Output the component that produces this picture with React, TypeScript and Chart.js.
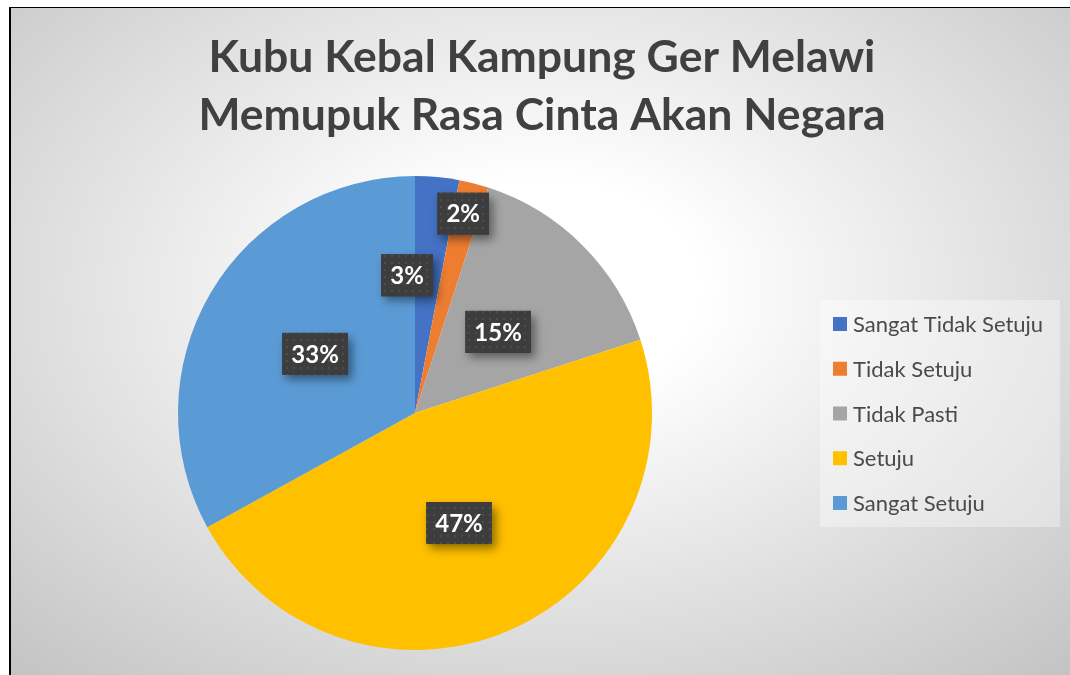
import React, { useEffect, useRef } from "react";
import { Chart, registerables } from "chart.js";
Chart.register(...registerables);

const titleLines = ["Kubu Kebal Kampung Ger Melawi", "Memupuk Rasa Cinta Akan Negara"];
const categories = ["Sangat Tidak Setuju", "Tidak Setuju", "Tidak Pasti", "Setuju", "Sangat Setuju"];
const values = [3, 2, 15, 47, 33];
const colors = ["#4472C4", "#ED7D31", "#A5A5A5", "#FFC000", "#5B9BD5"];

// label placement (radius fraction, angular nudge in degrees) per slice
const labelRadius = [0.582, 0.865, 0.49, 0.5, 0.49];
const labelNudge = [-8.7, -0.8, 0.7, 1.6, 0];

const W = 1059;
const H = 667;

function makePattern(ctx: CanvasRenderingContext2D) {
  const c = document.createElement("canvas");
  c.width = 7;
  c.height = 7;
  const g = c.getContext("2d")!;
  g.fillStyle = "#3d3d3d";
  g.fillRect(0, 0, 7, 7);
  g.fillStyle = "#4d4d4d";
  g.fillRect(2, 2, 2, 2);
  return ctx.createPattern(c, "repeat");
}

const titlePlugin = {
  id: "customTitle",
  afterDraw(chart: any) {
    const ctx = chart.ctx as CanvasRenderingContext2D;
    ctx.save();
    ctx.fillStyle = "#404040";
    ctx.textAlign = "center";
    ctx.textBaseline = "alphabetic";
    ctx.font = "bold 44.5px Lato";
    ctx.fillText(titleLines[0], 531, 64);
    ctx.fillText(titleLines[1], 531, 122);
    ctx.restore();
  },
};

const legendPlugin = {
  id: "customLegend",
  afterDraw(chart: any) {
    const ctx = chart.ctx as CanvasRenderingContext2D;
    const labels = chart.data.labels as string[];
    const bg = chart.data.datasets[0].backgroundColor as string[];
    ctx.save();
    ctx.fillStyle = "rgba(255,255,255,0.35)";
    ctx.fillRect(809, 292, 240, 227);
    ctx.font = "22px Lato";
    ctx.textAlign = "left";
    ctx.textBaseline = "middle";
    labels.forEach((lab, i) => {
      const cy = 316 + i * 44.75;
      ctx.fillStyle = bg[i];
      ctx.fillRect(822, cy - 7, 14, 14);
      ctx.fillStyle = "#4a4a4a";
      ctx.fillText(lab, 842, cy + 1);
    });
    ctx.restore();
  },
};

const labelPlugin = {
  id: "sliceLabels",
  afterDatasetsDraw(chart: any) {
    const ctx = chart.ctx as CanvasRenderingContext2D;
    const meta = chart.getDatasetMeta(0);
    const data = chart.data.datasets[0].data as number[];
    const total = data.reduce((a, b) => a + b, 0);
    const pat = makePattern(ctx);
    ctx.save();
    ctx.font = "bold 24px Lato";
    meta.data.forEach((arc: any, i: number) => {
      const p = arc.getProps(["x", "y", "startAngle", "endAngle", "outerRadius"], true);
      const mid = (p.startAngle + p.endAngle) / 2 + (labelNudge[i] * Math.PI) / 180;
      const r = p.outerRadius * labelRadius[i];
      const cx = p.x + Math.cos(mid) * r;
      const cy = p.y + Math.sin(mid) * r;
      const text = Math.round((data[i] / total) * 100) + "%";
      const tw = ctx.measureText(text).width;
      const bw = tw + 18;
      const bh = 42;
      ctx.save();
      ctx.shadowColor = "rgba(0,0,0,0.45)";
      ctx.shadowBlur = 9;
      ctx.shadowOffsetX = 4;
      ctx.shadowOffsetY = 5;
      ctx.fillStyle = "#3d3d3d";
      ctx.fillRect(cx - bw / 2, cy - bh / 2, bw, bh);
      ctx.restore();
      ctx.fillStyle = pat || "#3d3d3d";
      ctx.fillRect(cx - bw / 2, cy - bh / 2, bw, bh);
      ctx.fillStyle = "#ffffff";
      ctx.textAlign = "center";
      ctx.textBaseline = "middle";
      ctx.fillText(text, cx, cy + 1);
    });
    ctx.restore();
  },
};

export default function App() {
  const ref = useRef<HTMLCanvasElement>(null);
  useEffect(() => {
    if (!ref.current) return;
    const chart = new Chart(ref.current, {
      type: "pie",
      data: {
        labels: categories,
        datasets: [
          {
            data: values,
            backgroundColor: colors,
            borderWidth: 0,
          },
        ],
      },
      options: {
        responsive: false,
        animation: false,
        devicePixelRatio: 1,
        layout: { padding: { left: 167, top: 168, right: 418, bottom: 25 } },
        plugins: {
          legend: { display: false },
          title: { display: false },
          tooltip: { enabled: false },
        },
      },
      plugins: [titlePlugin, legendPlugin, labelPlugin],
    } as any);
    return () => chart.destroy();
  }, []);

  return (
    <div
      style={{
        position: "absolute",
        left: 9,
        top: 7,
        width: W,
        height: H,
        borderLeft: "2px solid #000",
        borderTop: "1px solid #000",
        background:
          "radial-gradient(ellipse 75% 80% at 50% 42%, #ffffff 0%, #ffffff 20%, #c2c2c2 100%)",
        overflow: "hidden",
      }}
    >
      <canvas ref={ref} width={W} height={H} style={{ display: "block", width: W, height: H }} />
    </div>
  );
}
